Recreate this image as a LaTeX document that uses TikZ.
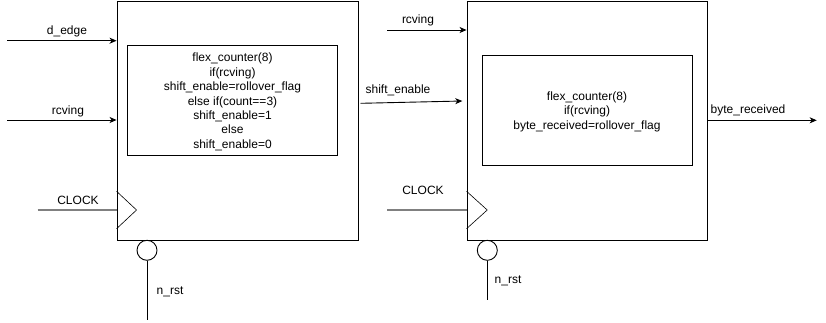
\documentclass[tikz,border=0pt]{standalone}
\usepackage{fontspec}
\setmainfont{Liberation Sans}
\usetikzlibrary{arrows.meta}
\begin{document}
\begin{tikzpicture}[x=1pt,y=-1pt,
  every node/.style={font=\fontsize{12}{14.4}\selectfont},
  block/.style={draw,line width=0.9pt,inner sep=0pt},
  inner/.style={draw,line width=0.9pt,inner sep=0pt},
  lbl/.style={inner sep=0pt,anchor=center},
  code/.style={inner sep=0pt,align=center,anchor=center},
  sig/.style={line width=0.9pt,-{Stealth[length=7pt,width=6pt,inset=2pt]}},
  clk/.style={draw=gray,line width=1.8pt},
  bubble/.style={draw,circle,line width=0.9pt,minimum size=20pt,inner sep=0pt},
  wire/.style={line width=0.9pt},
  edgemark/.style={line width=0.6pt}]
\useasboundingbox (0,0) rectangle (826,322);
\fill[white] (0,0) rectangle (826,322);

% left block: edge-driven shift counter
\node[block,minimum width=241pt,minimum height=239pt] (lb) at (237.5,120.5) {};
\node[inner,minimum width=209.6pt,minimum height=109.7pt] (li) at (232.5,100.2) {};
\node[code] (lt) at (232.5,102) {flex\_counter(8)\\if(rcving)\\shift\_enable=rollover\_flag\\else if(count==3)\\shift\_enable=1\\else\\shift\_enable=0};

% right block: byte counter
\node[block,minimum width=240pt,minimum height=239pt] (rb) at (587,120.5) {};
\node[inner,minimum width=210pt,minimum height=109.3pt] (ri) at (587.3,110.3) {};
\node[code] (rt) at (587,111.7) {flex\_counter(8)\\if(rcving)\\byte\_received=rollover\_flag};

% left block inputs
\coordinate (de) at (7,40.7);
\draw[sig] (de) -- (lb.west |- de);
\node[lbl] (del) at (67,31.5) {d\_edge};
\coordinate (rv) at (7,120);
\draw[sig] (rv) -- (lb.west |- rv);
\node[lbl] (rvl) at (68,111) {rcving};
\coordinate (ck) at (37.7,210);
\draw[clk] (ck) -- (lb.west |- ck);
\node[lbl] (ckl) at (78,200.5) {CLOCK};
\coordinate (lk) at (117,191.3);
\draw[edgemark] (lb.west |- lk) -- ++(20,18.7) -- ++(-20,18.7);
\node[bubble] (lr) at (147,250.3) {};
\coordinate (lre) at (147,319.5);
\draw[wire] (lr.south) -- (lre);
\node[lbl] (lrl) at (170,292) {n\_rst};

% right block inputs
\coordinate (rv2) at (387.3,30);
\draw[sig] (rv2) -- (rb.west |- rv2);
\node[lbl] (rv2l) at (418,20.5) {rcving};
\coordinate (se) at (360.7,103.3);
\coordinate (see) at (462.3,101);
\draw[sig] (se) -- (see);
\node[lbl] (sel) at (398,90.7) {shift\_enable};
\coordinate (ck2) at (387.3,210);
\draw[clk] (ck2) -- (rb.west |- ck2);
\node[lbl] (ck2l) at (423,190.5) {CLOCK};
\coordinate (rk) at (467,191.3);
\draw[edgemark] (rb.west |- rk) -- ++(20.7,18.7) -- ++(-20.7,18.7);
\node[bubble] (rr) at (487.3,250.3) {};
\coordinate (rre) at (487.3,300);
\draw[wire] (rr.south) -- (rre);
\node[lbl] (rrl) at (508,280.5) {n\_rst};

% output
\coordinate (br) at (816.7,120.3);
\draw[sig] (rb.east |- br) -- (br);
\node[lbl] (brl) at (748,110.3) {byte\_received};
\end{tikzpicture}
\end{document}
